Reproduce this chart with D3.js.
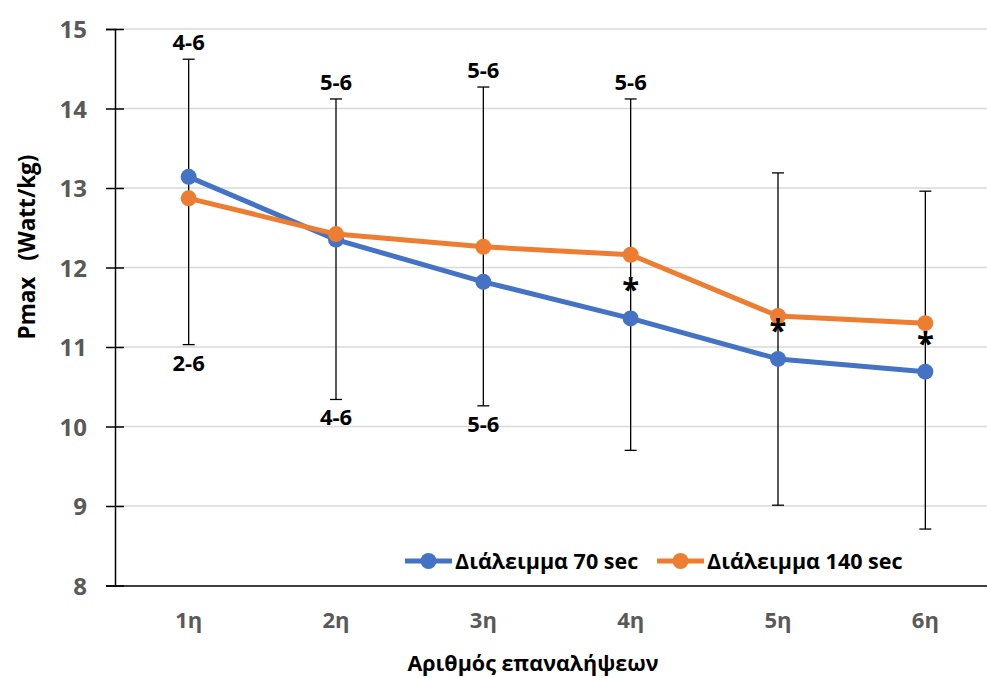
<!DOCTYPE html>
<html>
<head>
<meta charset="utf-8">
<script src="https://cdn.jsdelivr.net/npm/d3@7"></script>
<style>
  body { margin: 0; background: #fff; }
  text { font-family: "Open Sans", "Noto Sans", sans-serif; font-weight: bold; }
</style>
</head>
<body>
<div id="chart"></div>
<script>
// Datos del grafico
var categorias = ["1η", "2η", "3η", "4η", "5η", "6η"];
var serie70 = [13.14, 12.35, 11.82, 11.36, 10.85, 10.69];
var serie140 = [12.87, 12.42, 12.26, 12.16, 11.39, 11.30];
var errorAlto = [14.62, 14.12, 14.27, 14.12, 13.19, 12.96];
var errorBajo = [11.03, 10.34, 10.26, 9.70, 9.01, 8.71];
var etiquetasAltas = ["4-6", "5-6", "5-6", "5-6", "", ""];
var etiquetasBajas = ["2-6", "4-6", "5-6", "", "", ""];
var asteriscos = ["", "", "", "*", "*", "*"];
var ticksY = [8, 9, 10, 11, 12, 13, 14, 15];
var nombresSeries = ["Διάλειμμα 70 sec", "Διάλειμμα 140 sec"];

var width = 987, height = 678;
var margin = {top: 29, right: -12, bottom: 92.5, left: 115};
var azul = "#4472c4", naranja = "#ed7d31";

var svg = d3.select("#chart").append("svg")
    .attr("width", width)
    .attr("height", height);

// Escalas
var x = d3.scaleBand()
    .domain(categorias)
    .range([margin.left, width - margin.right]);
var y = d3.scaleLinear()
    .domain([8, 15])
    .range([height - margin.bottom, margin.top]);

// Rejilla horizontal
svg.append("g")
    .selectAll("line")
    .data(ticksY.slice(1))
    .enter().append("line")
    .attr("x1", margin.left).attr("x2", width - margin.right)
    .attr("y1", function(d) { return y(d); })
    .attr("y2", function(d) { return y(d); })
    .attr("stroke", "#d9d9d9")
    .attr("stroke-width", 1.5);

// Eje Y
var ejeY = svg.append("g")
    .attr("transform", "translate(" + margin.left + ",0)")
    .call(d3.axisLeft(y).tickValues(ticksY).tickFormat(d3.format("d")).tickSize(9).tickPadding(19));
ejeY.select(".domain").attr("stroke", "#000").attr("stroke-width", 1.5);
ejeY.selectAll(".tick line").attr("x2", 9).attr("x1", -9).attr("stroke", "#000").attr("stroke-width", 1.5);
ejeY.selectAll(".tick text")
    .attr("fill", "#595959")
    .attr("dy", "0.36em")
    .style("font-size", "24px")
    .style("font-family", "'Open Sans', sans-serif")
    .style("font-weight", "bold");

// Eje X
var ejeX = svg.append("g")
    .attr("transform", "translate(0," + y(8) + ")")
    .call(d3.axisBottom(x).tickSize(0).tickPadding(27));
ejeX.select(".domain").attr("stroke", "#000").attr("stroke-width", 1.5);
ejeX.selectAll(".tick text")
    .attr("fill", "#595959")
    .style("font-size", "22px")
    .style("font-family", "'Open Sans', sans-serif")
    .style("font-weight", "bold");

// Barras de error
var cx = function(d, i) { return x(categorias[i]) + x.bandwidth() / 2; };
var err = svg.append("g").attr("stroke", "#000").attr("stroke-width", 1.3);
err.selectAll(".v").data(errorAlto).enter().append("line")
    .attr("x1", cx).attr("x2", cx)
    .attr("y1", function(d) { return y(d); })
    .attr("y2", function(d, i) { return y(errorBajo[i]); });
err.selectAll(".t").data(errorAlto.concat(errorBajo)).enter().append("line")
    .attr("x1", function(d, i) { return cx(d, i % 6) - 6; })
    .attr("x2", function(d, i) { return cx(d, i % 6) + 6; })
    .attr("y1", function(d) { return y(d); })
    .attr("y2", function(d) { return y(d); });

// Lineas y puntos
function dibujaSerie(valores, color) {
    var linea = d3.line()
        .x(function(d, i) { return cx(d, i); })
        .y(function(d) { return y(d); });
    svg.append("path")
        .attr("d", linea(valores))
        .attr("fill", "none")
        .attr("stroke", color)
        .attr("stroke-width", 5)
        .attr("stroke-linejoin", "round");
    svg.append("g").selectAll("circle")
        .data(valores).enter().append("circle")
        .attr("cx", cx)
        .attr("cy", function(d) { return y(d); })
        .attr("r", 8)
        .attr("fill", color);
}
dibujaSerie(serie70, azul);
dibujaSerie(serie140, naranja);

// Etiquetas de las barras de error
svg.append("g").selectAll("text")
    .data(etiquetasAltas).enter().append("text")
    .attr("x", cx)
    .attr("y", function(d, i) { return y(errorAlto[i]) - 9; })
    .attr("text-anchor", "middle")
    .style("font-size", "22px")
    .text(function(d) { return d; });
svg.append("g").selectAll("text")
    .data(etiquetasBajas).enter().append("text")
    .attr("x", cx)
    .attr("y", function(d, i) { return y(errorBajo[i]) + 26; })
    .attr("text-anchor", "middle")
    .style("font-size", "22px")
    .text(function(d) { return d; });
svg.append("g").selectAll("text")
    .data(asteriscos).enter().append("text")
    .attr("x", cx)
    .attr("y", function(d, i) { return y(serie70[i]) - 18; })
    .attr("text-anchor", "middle")
    .style("font-size", "31px")
    .text(function(d) { return d; });

// Titulos de ejes
svg.append("text")
    .attr("x", 533).attr("y", 671)
    .attr("text-anchor", "middle")
    .style("font-size", "21.5px")
    .text("Αριθμός επαναλήψεων");
var tituloY = svg.append("text")
    .attr("transform", "translate(35,247) rotate(-90)")
    .attr("text-anchor", "middle")
    .style("font-size", "22.5px");
tituloY.append("tspan").text("Pmax");
tituloY.append("tspan").attr("dx", 16).text("(Watt/kg)");

// Leyenda
var leyenda = svg.append("g");
var posLeyenda = [405, 657];
[azul, naranja].forEach(function(color, i) {
    var lx = posLeyenda[i];
    leyenda.append("line")
        .attr("x1", lx).attr("x2", lx + 47)
        .attr("y1", 561).attr("y2", 561)
        .attr("stroke", color).attr("stroke-width", 5);
    leyenda.append("circle")
        .attr("cx", lx + 23.5).attr("cy", 561).attr("r", 8)
        .attr("fill", color);
    leyenda.append("text")
        .attr("x", lx + 50).attr("y", 569)
        .style("font-size", "21.5px")
        .text(nombresSeries[i]);
});
</script>
</body>
</html>
